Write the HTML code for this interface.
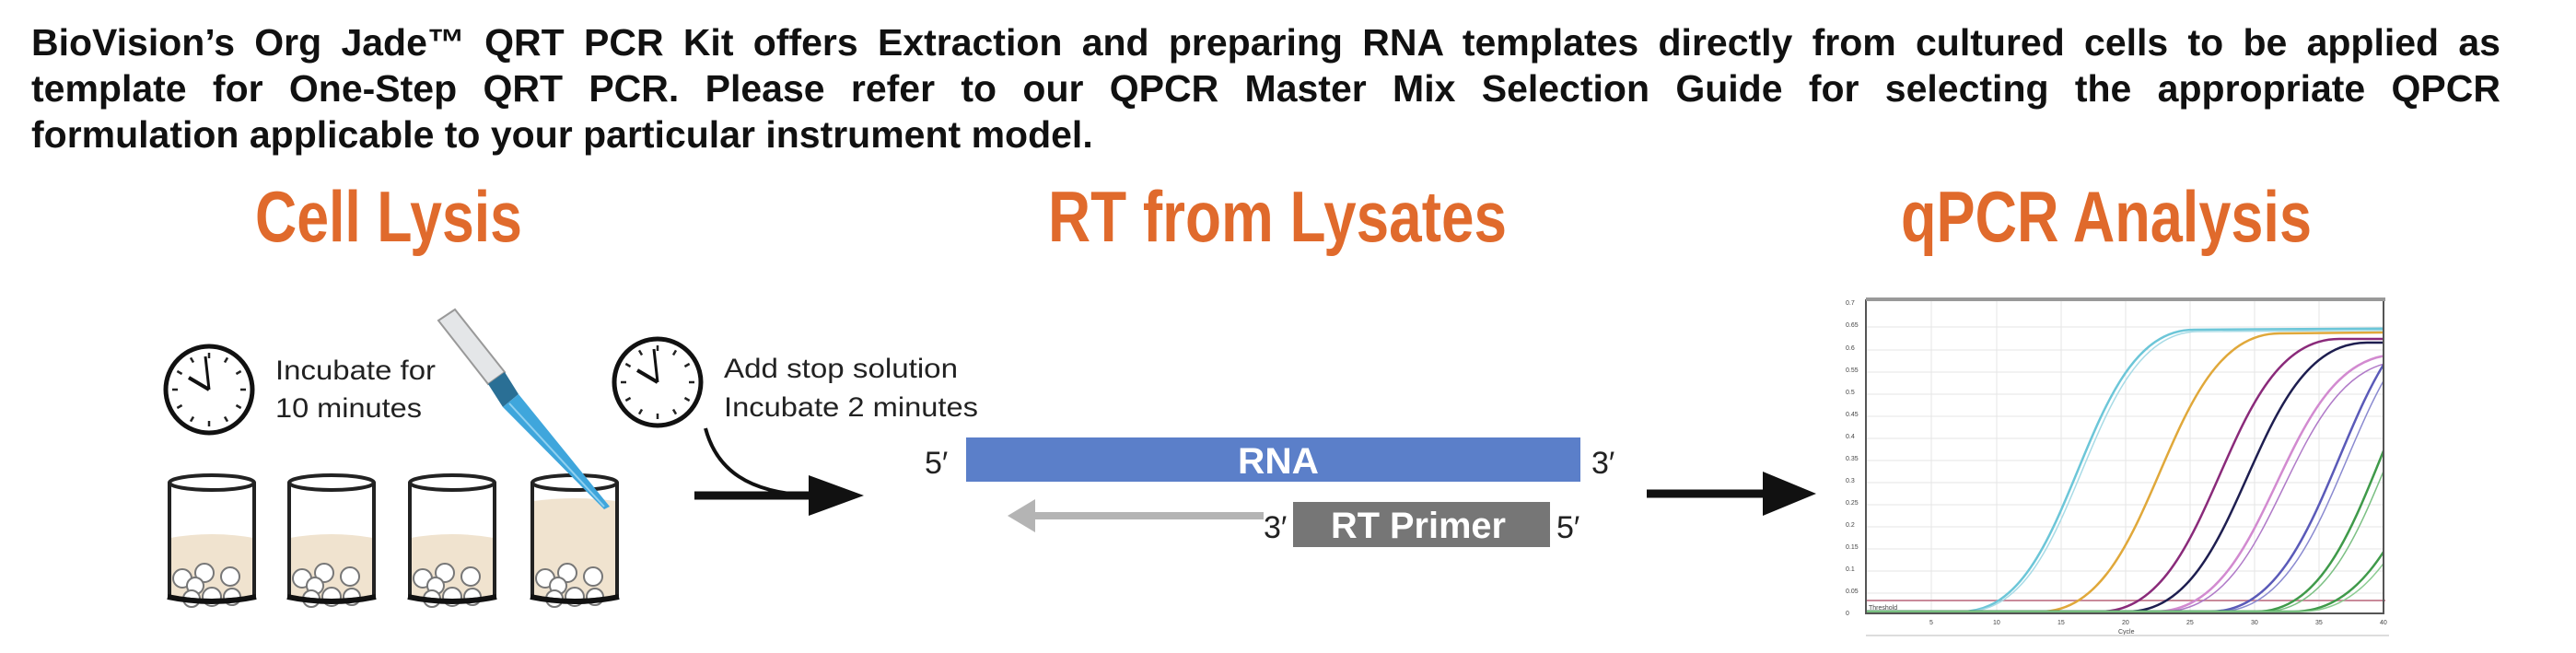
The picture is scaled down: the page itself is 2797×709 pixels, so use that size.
<!DOCTYPE html>
<html><head><meta charset="utf-8"><style>
html,body{margin:0;padding:0;background:#fff;width:2797px;height:709px;overflow:hidden;position:relative}
svg{position:absolute;left:0;top:0}
#p{position:absolute;left:34px;top:21px;width:2681px;font:bold 41px/50px "Liberation Sans",Arial,sans-serif;color:#111;z-index:2}
#p div{text-align:justify;text-align-last:justify}
#p div.l{text-align-last:left}
</style></head><body>
<div id="p">
<div>BioVision’s Org Jade™ QRT PCR Kit offers Extraction and preparing RNA templates directly from cultured cells to be applied as</div>
<div>template for One-Step QRT PCR. Please refer to our QPCR Master Mix Selection Guide for selecting the appropriate QPCR</div>
<div class="l">formulation applicable to your particular instrument model.</div>
</div>
<svg width="2797" height="709" viewBox="0 0 2797 709" xmlns="http://www.w3.org/2000/svg" font-family="Liberation Sans, Arial, sans-serif">
<defs>
<clipPath id="cp"><rect x="2026" y="326" width="562" height="340"/></clipPath>
<g id="clock">
<circle cx="0" cy="0" r="47" fill="#fff" stroke="#111" stroke-width="5"/>
<g stroke="#222" stroke-width="2.5">
<line x1="0" y1="-40" x2="0" y2="-34" transform="rotate(0)"/><line x1="0" y1="-40" x2="0" y2="-34" transform="rotate(30)"/><line x1="0" y1="-40" x2="0" y2="-34" transform="rotate(60)"/><line x1="0" y1="-40" x2="0" y2="-34" transform="rotate(90)"/><line x1="0" y1="-40" x2="0" y2="-34" transform="rotate(120)"/><line x1="0" y1="-40" x2="0" y2="-34" transform="rotate(150)"/><line x1="0" y1="-40" x2="0" y2="-34" transform="rotate(180)"/><line x1="0" y1="-40" x2="0" y2="-34" transform="rotate(210)"/><line x1="0" y1="-40" x2="0" y2="-34" transform="rotate(240)"/><line x1="0" y1="-40" x2="0" y2="-34" transform="rotate(270)"/><line x1="0" y1="-40" x2="0" y2="-34" transform="rotate(300)"/><line x1="0" y1="-40" x2="0" y2="-34" transform="rotate(330)"/>
</g>
<line x1="0" y1="0" x2="-4" y2="-36" stroke="#111" stroke-width="3"/>
<line x1="0" y1="0" x2="-22" y2="-13" stroke="#111" stroke-width="4"/>
</g>
<g id="balls" fill="#fff" stroke="#777" stroke-width="2">
<circle cx="16" cy="112" r="10"/><circle cx="40" cy="106" r="10"/><circle cx="68" cy="110" r="10"/><circle cx="30" cy="120" r="9"/><circle cx="26" cy="134" r="9"/><circle cx="48" cy="132" r="10"/><circle cx="70" cy="132" r="9"/>
</g>
</defs>

<!-- headings -->
<g font-weight="bold" fill="#e06a2c" font-size="78">
<text x="277" y="262" textLength="290" lengthAdjust="spacingAndGlyphs">Cell Lysis</text>
<text x="1138" y="262" textLength="498" lengthAdjust="spacingAndGlyphs">RT from Lysates</text>
<text x="2064" y="262" textLength="446" lengthAdjust="spacingAndGlyphs">qPCR Analysis</text>
</g>

<!-- clocks -->
<use href="#clock" x="227" y="423"/>
<use href="#clock" x="714" y="415"/>
<g font-size="30" fill="#222">
<text x="299" y="412" textLength="174" lengthAdjust="spacingAndGlyphs">Incubate for</text>
<text x="299" y="453" textLength="159" lengthAdjust="spacingAndGlyphs">10 minutes</text>
<text x="786" y="410" textLength="254" lengthAdjust="spacingAndGlyphs">Add stop solution</text>
<text x="786" y="452" textLength="276" lengthAdjust="spacingAndGlyphs">Incubate 2 minutes</text>
</g>

<!-- beakers -->
<g>
<g transform="translate(182,516)">
<path d="M3,68 Q48,60 93,68 L93,132 Q48,140 3,132 Z" fill="#f0e3cf"/>
<use href="#balls"/>
<path d="M2,8 L2,132 Q48,140 94,132 L94,8" fill="none" stroke="#222" stroke-width="4"/>
<ellipse cx="48" cy="8" rx="46" ry="8" fill="none" stroke="#222" stroke-width="4"/>
<path d="M0,132 Q48,142 96,132" fill="none" stroke="#111" stroke-width="6"/>
</g>
<g transform="translate(312,516)">
<path d="M3,68 Q48,60 93,68 L93,132 Q48,140 3,132 Z" fill="#f0e3cf"/>
<use href="#balls"/>
<path d="M2,8 L2,132 Q48,140 94,132 L94,8" fill="none" stroke="#222" stroke-width="4"/>
<ellipse cx="48" cy="8" rx="46" ry="8" fill="none" stroke="#222" stroke-width="4"/>
<path d="M0,132 Q48,142 96,132" fill="none" stroke="#111" stroke-width="6"/>
</g>
<g transform="translate(443,516)">
<path d="M3,68 Q48,60 93,68 L93,132 Q48,140 3,132 Z" fill="#f0e3cf"/>
<use href="#balls"/>
<path d="M2,8 L2,132 Q48,140 94,132 L94,8" fill="none" stroke="#222" stroke-width="4"/>
<ellipse cx="48" cy="8" rx="46" ry="8" fill="none" stroke="#222" stroke-width="4"/>
<path d="M0,132 Q48,142 96,132" fill="none" stroke="#111" stroke-width="6"/>
</g>
<g transform="translate(576,516)">
<path d="M3,28 Q48,22 93,28 L93,132 Q48,140 3,132 Z" fill="#f0e3cf"/>
<use href="#balls"/>
<path d="M2,8 L2,132 Q48,140 94,132 L94,8" fill="none" stroke="#222" stroke-width="4"/>
<ellipse cx="48" cy="8" rx="46" ry="8" fill="none" stroke="#222" stroke-width="4"/>
<path d="M0,132 Q48,142 96,132" fill="none" stroke="#111" stroke-width="6"/>
</g>
</g>

<!-- pipette -->
<g>
<polygon points="476,348 494,336 548,404 530,417" fill="#e4e6e8" stroke="#999" stroke-width="2"/>
<polygon points="530,417 548,404 563,428 546,442" fill="#2a6f95"/>
<polygon points="546,442 563,428 662,550 656,553" fill="#3fa6dc"/>
<line x1="553" y1="438" x2="656" y2="550" stroke="#8fd0f0" stroke-width="2"/>
</g>

<!-- curved arrow -->
<path d="M766,465 C778,510 812,535 880,538" fill="none" stroke="#111" stroke-width="4"/>
<line x1="754" y1="538" x2="885" y2="538" stroke="#111" stroke-width="9"/>
<polygon points="878,516 938,538 878,560" fill="#111"/>

<!-- RNA -->
<rect x="1049" y="475" width="667" height="48" fill="#5b7fc9"/>
<text x="1388" y="514" font-size="40" font-weight="bold" fill="#fff" text-anchor="middle" textLength="88" lengthAdjust="spacingAndGlyphs">RNA</text>
<g font-size="34" fill="#222">
<text x="1004" y="514">5′</text>
<text x="1728" y="514">3′</text>
<text x="1372" y="584">3′</text>
<text x="1690" y="584">5′</text>
</g>
<line x1="1115" y1="560" x2="1372" y2="560" stroke="#b4b4b4" stroke-width="8"/>
<polygon points="1094,560 1124,542 1124,578" fill="#b4b4b4"/>
<rect x="1404" y="545" width="279" height="49" fill="#767676"/>
<text x="1540" y="584" font-size="40" font-weight="bold" fill="#fff" text-anchor="middle" textLength="190" lengthAdjust="spacingAndGlyphs">RT Primer</text>

<!-- arrow 2 -->
<line x1="1788" y1="536" x2="1920" y2="536" stroke="#111" stroke-width="9"/>
<polygon points="1914,512 1972,536 1914,560" fill="#111"/>

<!-- chart -->
<g>
<g stroke="#e6e6e6" stroke-width="1">
<line x1="2097" y1="326" x2="2097" y2="666"/><line x1="2168" y1="326" x2="2168" y2="666"/><line x1="2238" y1="326" x2="2238" y2="666"/><line x1="2308" y1="326" x2="2308" y2="666"/><line x1="2378" y1="326" x2="2378" y2="666"/><line x1="2448" y1="326" x2="2448" y2="666"/><line x1="2518" y1="326" x2="2518" y2="666"/>
<line x1="2026" y1="355" x2="2588" y2="355"/><line x1="2026" y1="380" x2="2588" y2="380"/><line x1="2026" y1="404" x2="2588" y2="404"/><line x1="2026" y1="428" x2="2588" y2="428"/><line x1="2026" y1="452" x2="2588" y2="452"/><line x1="2026" y1="476" x2="2588" y2="476"/><line x1="2026" y1="500" x2="2588" y2="500"/><line x1="2026" y1="524" x2="2588" y2="524"/><line x1="2026" y1="548" x2="2588" y2="548"/><line x1="2026" y1="572" x2="2588" y2="572"/><line x1="2026" y1="596" x2="2588" y2="596"/><line x1="2026" y1="620" x2="2588" y2="620"/><line x1="2026" y1="644" x2="2588" y2="644"/>
</g>
<line x1="2026" y1="652" x2="2590" y2="652" stroke="#c98a9a" stroke-width="2"/>
<g clip-path="url(#cp)" fill="none" stroke-width="2.5">
<path d="M2026,664 L2130,664 C2256,664 2256,358 2382,358 L2700,356" stroke="#6cc6d8"/>
<path d="M2026,664 L2134,664 C2260,664 2260,362 2386,360 L2700,358" stroke="#a8dbe6" stroke-width="1.5"/>
<path d="M2026,664 L2215,664 C2345,664 2345,362 2475,362 L2700,360" stroke="#e0a83a"/>
<path d="M2026,664 L2280,664 C2410,664 2410,368 2540,368 L2700,368" stroke="#8a2a7a"/>
<path d="M2026,664 L2310,664 C2440,664 2440,372 2570,372 L2700,372" stroke="#1e1e50"/>
<path d="M2026,664 L2340,664 C2472,664 2472,385 2604,385 L2700,385" stroke="#d28ad0"/>
<path d="M2026,664 L2348,664 C2480,664 2480,392 2612,392 L2700,392" stroke="#b07ac8" stroke-width="1.5"/>
<path d="M2026,664 L2400,664 C2540,664 2540,330 2680,330" stroke="#5a5ab8"/>
<path d="M2026,664 L2408,664 C2548,664 2548,335 2688,335" stroke="#8a8ad0" stroke-width="1.5"/>
<path d="M2026,664 L2450,664 C2585,664 2585,330 2720,330" stroke="#3f9a4a"/>
<path d="M2026,664 L2458,664 C2593,664 2593,335 2728,335" stroke="#7cc084" stroke-width="1.5"/>
<path d="M2026,664 L2490,664 C2630,664 2630,380 2770,380" stroke="#3f9a4a"/>
<path d="M2026,664 L2498,664 C2638,664 2638,385 2778,385" stroke="#8ccc92" stroke-width="1.5"/>
</g>
<rect x="2026" y="326" width="562" height="340" fill="none" stroke="#555" stroke-width="2"/>
<line x1="2026" y1="325" x2="2590" y2="325" stroke="#999" stroke-width="4"/>
<g font-size="7" fill="#444">
<text x="2004" y="331">0.7</text><text x="2004" y="355">0.65</text><text x="2004" y="380">0.6</text><text x="2004" y="404">0.55</text><text x="2004" y="428">0.5</text><text x="2004" y="452">0.45</text><text x="2004" y="476">0.4</text><text x="2004" y="500">0.35</text><text x="2004" y="524">0.3</text><text x="2004" y="548">0.25</text><text x="2004" y="572">0.2</text><text x="2004" y="596">0.15</text><text x="2004" y="620">0.1</text><text x="2004" y="644">0.05</text><text x="2004" y="668">0</text>
<text x="2095" y="678">5</text><text x="2164" y="678">10</text><text x="2234" y="678">15</text><text x="2304" y="678">20</text><text x="2374" y="678">25</text><text x="2444" y="678">30</text><text x="2514" y="678">35</text><text x="2584" y="678">40</text>
<text x="2300" y="688">Cycle</text>
<text x="2029" y="662">Threshold</text>
</g>
<line x1="2026" y1="690" x2="2594" y2="690" stroke="#ddd" stroke-width="2"/>
</g>
</svg>
</body></html>
